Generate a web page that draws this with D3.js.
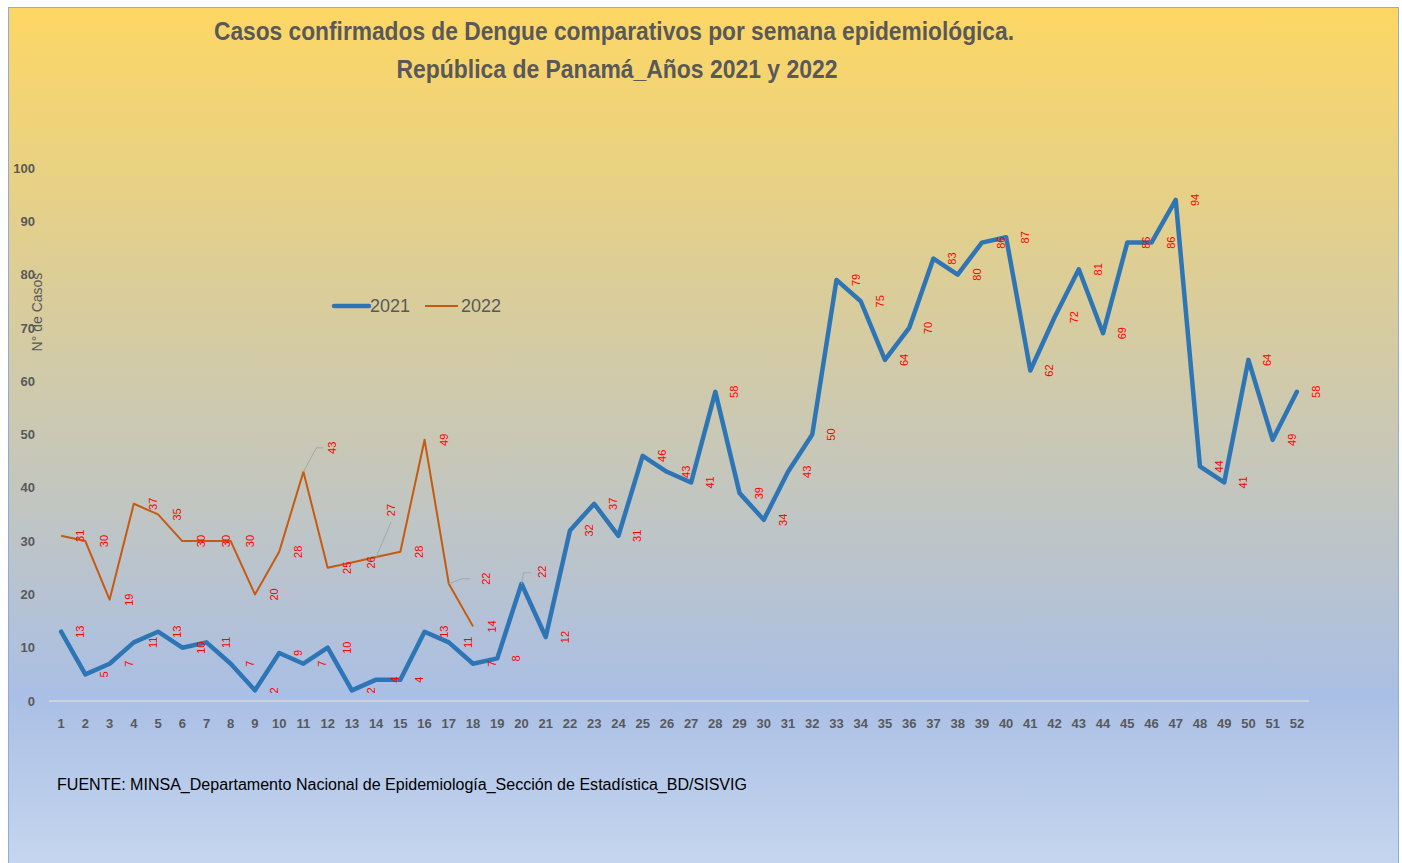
<!DOCTYPE html>
<html>
<head>
<meta charset="utf-8">
<script src="https://cdn.jsdelivr.net/npm/d3@7"></script>
<style>
  body { margin: 0; background: #fff; }
  svg { display: block; }
</style>
</head>
<body>
<svg width="1402" height="863"></svg>
<script>
const weeks = d3.range(1, 53);
const cases2021 = [13, 5, 7, 11, 13, 10, 11, 7, 2, 9, 7, 10, 2, 4, 4, 13, 11, 7, 8, 22,
  12, 32, 37, 31, 46, 43, 41, 58, 39, 34, 43, 50, 79, 75, 64, 70, 83, 80, 86, 87,
  62, 72, 81, 69, 86, 86, 94, 44, 41, 64, 49, 58];
const cases2022 = [31, 30, 19, 37, 35, 30, 30, 30, 20, 28, 43, 25, 26, 27, 28, 49, 22, 14];
const seriesNames = ["2021", "2022"];
const yTicks = [0, 10, 20, 30, 40, 50, 60, 70, 80, 90, 100];

const svg = d3.select("svg");
const font = "'Liberation Sans Narrow', 'Liberation Sans', Arial, sans-serif";

// background gradient
const defs = svg.append("defs");
const grad = defs.append("linearGradient")
  .attr("id", "bg").attr("x1", 0).attr("y1", 0).attr("x2", 0).attr("y2", 1);
grad.append("stop").attr("offset", "0%").attr("stop-color", "#fdd764");
grad.append("stop").attr("offset", "80%").attr("stop-color", "#aabfe5");
grad.append("stop").attr("offset", "100%").attr("stop-color", "#c6d6ef");

svg.append("rect")
  .attr("x", 8.5).attr("y", 7.5)
  .attr("width", 1390).attr("height", 860)
  .attr("fill", "url(#bg)")
  .attr("stroke", "#8faadc").attr("stroke-width", 1);

// scales
const x = d3.scaleBand().domain(weeks).range([49, 1309]).padding(0);
const y = d3.scaleLinear().domain([0, 100]).range([701, 168]);
const cx = (w) => x(w) + x.bandwidth() / 2;

// title
svg.append("text")
  .attr("x", 614).attr("y", 40)
  .attr("text-anchor", "middle")
  .attr("font-family", font).attr("font-weight", "bold").attr("font-size", 25)
  .attr("fill", "#595959")
  .attr("textLength", 800).attr("lengthAdjust", "spacingAndGlyphs")
  .text("Casos confirmados de Dengue comparativos por semana epidemiológica.");
svg.append("text")
  .attr("x", 617).attr("y", 78)
  .attr("text-anchor", "middle")
  .attr("font-family", font).attr("font-weight", "bold").attr("font-size", 25)
  .attr("fill", "#595959")
  .attr("textLength", 441).attr("lengthAdjust", "spacingAndGlyphs")
  .text("República de Panamá_Años 2021 y 2022");

// zero line
svg.append("line")
  .attr("x1", 49).attr("x2", 1309)
  .attr("y1", y(0)).attr("y2", y(0))
  .attr("stroke", "#d9d9d9").attr("stroke-width", 1.5);

// axes
const xAxisGroup = svg.append("g")
  .attr("transform", `translate(0,${y(0)})`)
  .call(d3.axisBottom(x).tickSize(0).tickPadding(18));
const yAxisGroup = svg.append("g")
  .attr("transform", "translate(43,0)")
  .call(d3.axisLeft(y).tickValues(yTicks).tickSize(0).tickPadding(8));

[xAxisGroup, yAxisGroup].forEach((g) => {
  g.select(".domain").remove();
  g.selectAll("text")
    .attr("font-family", font).attr("font-weight", "bold")
    .attr("font-size", 13).attr("fill", "#595959");
});

// y axis title
svg.append("text")
  .attr("transform", `translate(37,${312}) rotate(-90)`)
  .attr("text-anchor", "middle").attr("dominant-baseline", "central")
  .attr("font-family", font).attr("font-size", 14).attr("fill", "#595959")
  .text("N° de Casos");

// lines
const line = d3.line().x((d, i) => cx(weeks[i])).y((d) => y(d));

svg.append("path").datum(cases2022)
  .attr("d", line).attr("fill", "none")
  .attr("stroke", "#c55a11").attr("stroke-width", 2)
  .attr("stroke-linejoin", "round");

svg.append("path").datum(cases2021)
  .attr("d", line).attr("fill", "none")
  .attr("stroke", "#2e75b6").attr("stroke-width", 4.5)
  .attr("stroke-linejoin", "round").attr("stroke-linecap", "round");

// data labels, moved ones get a leader line
const moved = {
  "2021-20": { dx: 20, dy: -12, path: [[2, -11], [10, -11]] },
  "2022-11": { dx: 29, dy: -24, path: [[13, -24], [20, -24]] },
  "2022-14": { dx: 15, dy: -47, path: [[15, -35]] },
  "2022-17": { dx: 37, dy: -5, path: [[13, -5], [21, -5]] }
};

const labelData = [];
[cases2021, cases2022].forEach((vals, s) => {
  vals.forEach((v, i) => {
    labelData.push({ key: `${seriesNames[s]}-${weeks[i]}`, week: weeks[i], value: v });
  });
});

const labels = svg.append("g");
labelData.forEach((d) => {
  const px = cx(d.week), py = y(d.value);
  const m = moved[d.key];
  let lx = px + 19, ly = py;
  if (m) {
    lx = px + m.dx; ly = py + m.dy;
    const pts = [[px, py]].concat(m.path.map((p) => [px + p[0], py + p[1]]));
    labels.append("path")
      .attr("d", d3.line()(pts))
      .attr("fill", "none").attr("stroke", "#a6a6a6").attr("stroke-width", 1);
  }
  labels.append("text")
    .attr("transform", `translate(${lx},${ly}) rotate(-90)`)
    .attr("text-anchor", "middle").attr("dominant-baseline", "central")
    .attr("font-family", "'Liberation Sans', Arial, sans-serif")
    .attr("font-size", 11).attr("fill", "#ff0000")
    .text(d.value);
});

// legend
const legend = svg.append("g").attr("transform", "translate(334,306)");
legend.append("line").attr("x1", 0).attr("x2", 35).attr("y1", 0).attr("y2", 0)
  .attr("stroke", "#2e75b6").attr("stroke-width", 4.5).attr("stroke-linecap", "round");
legend.append("text").attr("x", 36).attr("y", 0)
  .attr("dominant-baseline", "central")
  .attr("font-family", font).attr("font-size", 18).attr("fill", "#595959")
  .text(seriesNames[0]);
legend.append("line").attr("x1", 91).attr("x2", 124).attr("y1", 0).attr("y2", 0)
  .attr("stroke", "#c55a11").attr("stroke-width", 2);
legend.append("text").attr("x", 127).attr("y", 0)
  .attr("dominant-baseline", "central")
  .attr("font-family", font).attr("font-size", 18).attr("fill", "#595959")
  .text(seriesNames[1]);

// source note
svg.append("text")
  .attr("x", 57).attr("y", 790)
  .attr("font-family", font).attr("font-size", 16).attr("fill", "#000")
  .attr("textLength", 690).attr("lengthAdjust", "spacingAndGlyphs")
  .text("FUENTE: MINSA_Departamento Nacional de Epidemiología_Sección de Estadística_BD/SISVIG");
</script>
</body>
</html>
